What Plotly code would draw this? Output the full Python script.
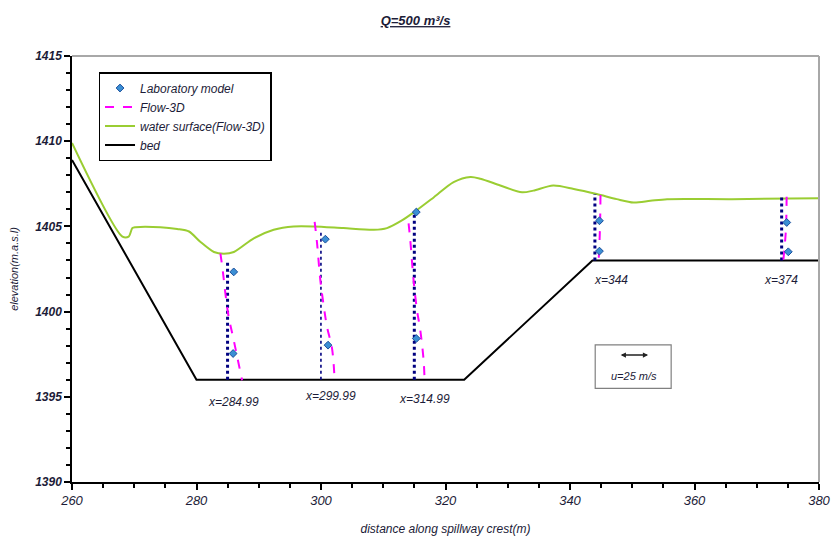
import plotly.graph_objects as go

# ---- bed profile (m, m a.s.l.) ----
bed_x = [260, 280, 323, 343.6, 380]
bed_z = [1408.9, 1396.0, 1396.0, 1403.0, 1403.0]

# ---- computed water surface (Flow-3D) ----
ws_x = [260.0, 268.1, 269.1, 269.7, 270.2, 274.2, 276.9, 278.8, 280.6, 282.8, 284.4,
        286.0, 289.2, 292.4, 295.6, 298.8, 303.6, 308.5, 310.6, 313.0, 315.2, 318.1,
        321.3, 324.0, 325.6, 328.8, 332.3, 334.1, 337.3, 340.6, 344.3, 347.5, 350.2,
        352.9, 355.6, 366.0, 380.0]
ws_z = [1409.9, 1404.4, 1404.4, 1404.9, 1404.95, 1404.95, 1404.85, 1404.7, 1404.1, 1403.5, 1403.4,
        1403.5, 1404.3, 1404.8, 1405.0, 1405.0, 1404.9, 1404.8, 1404.9, 1405.35, 1405.9, 1406.7,
        1407.6, 1407.9, 1407.8, 1407.4, 1407.0, 1407.1, 1407.4, 1407.2, 1406.9, 1406.6, 1406.4,
        1406.5, 1406.6, 1406.6, 1406.65]

# ---- measuring stations ----
stations = [284.99, 299.99, 314.99, 344, 374]
station_labels = ["x=284.99", "x=299.99", "x=314.99", "x=344", "x=374"]
station_top = [1403.0, 1404.8, 1405.9, 1406.9, 1406.7]
station_bed = [1396.0, 1396.0, 1396.0, 1403.0, 1403.0]

# ---- Flow-3D velocity profiles (plotted as x positions) ----
f3d_x_284 = [283.84, 284.21, 284.64, 285.17, 285.98, 287.32]
f3d_z_284 = [1403.41, 1402.43, 1401.07, 1399.69, 1398.32, 1395.97]
f3d_x_299 = [298.98, 299.37, 299.89, 300.42, 300.97, 301.77, 302.19]
f3d_z_299 = [1405.27, 1404.0, 1401.85, 1400.38, 1399.1, 1397.84, 1395.97]
f3d_x_314 = [314.07, 314.34, 314.87, 315.42, 315.95, 316.48, 316.64]
f3d_z_314 = [1405.18, 1404.2, 1401.85, 1400.09, 1398.91, 1397.15, 1395.97]
f3d_x_344 = [344.9, 344.85, 344.75, 344.6]
f3d_z_344 = [1406.84, 1405.5, 1404.2, 1403.0]
f3d_x_374 = [374.8, 374.75, 374.65, 374.27]
f3d_z_374 = [1406.74, 1405.5, 1404.6, 1403.0]

# ---- laboratory model measurements ----
lab_x = [285.98, 285.88, 300.70, 301.13, 315.31, 315.31, 344.73, 344.73, 374.82, 375.07]
lab_z = [1402.33, 1397.54, 1404.25, 1398.03, 1405.84, 1398.42, 1405.33, 1403.55, 1405.23, 1403.51]

# ---- velocity scale ----
scale_u = 25          # m/s
scale_len = 4.65      # m of horizontal axis per scale_u

FONT = "Liberation Sans, Arial, sans-serif"
TXT = "#1c1c38"
MAGENTA = "#ff00ff"
NAVY = "#000080"
GREEN = "#9acd32"

fig = go.Figure()

fig.add_trace(go.Scatter(x=bed_x, y=bed_z, mode="lines", name="bed",
                         line=dict(color="black", width=2), legendrank=4))
fig.add_trace(go.Scatter(x=ws_x, y=ws_z, mode="lines", name="water surface(Flow-3D)",
                         line=dict(color=GREEN, width=2, shape="spline", smoothing=0.8),
                         legendrank=3))

# station reference lines
for i, (sx, top, bot) in enumerate(zip(stations, station_top, station_bed)):
    fig.add_trace(go.Scatter(x=[sx, sx], y=[bot, top], mode="lines", showlegend=False,
                             hoverinfo="skip",
                             line=dict(color=NAVY, width=1.6 if i == 1 else 3, dash="dot")))

profiles = [(f3d_x_284, f3d_z_284), (f3d_x_299, f3d_z_299), (f3d_x_314, f3d_z_314),
            (f3d_x_344, f3d_z_344), (f3d_x_374, f3d_z_374)]
for i, (px, pz) in enumerate(profiles):
    fig.add_trace(go.Scatter(x=px, y=pz, mode="lines", name="Flow-3D",
                             legendgroup="f3d", showlegend=(i == 0), legendrank=2,
                             line=dict(color=MAGENTA, width=2, dash="dash", shape="spline")))

fig.add_trace(go.Scatter(x=lab_x, y=lab_z, mode="markers", name="Laboratory model",
                         legendrank=1,
                         marker=dict(symbol="diamond", size=6, color="#3b8fd4",
                                     line=dict(color="#1b4f9c", width=1))))

annotations = []
# station labels
label_pos = [(285.9, 1394.7), (301.5, 1395.05), (316.6, 1394.9), (346.6, 1401.85), (373.9, 1401.85)]
for txt, (lx, ly) in zip(station_labels, label_pos):
    annotations.append(dict(x=lx, y=ly, text=txt, showarrow=False,
                            font=dict(family=FONT, size=12, color=TXT, style="italic")))

# velocity scale bar
sx0 = 347.9
sy = 1397.45
annotations.append(dict(x=sx0 + scale_len, y=sy, ax=sx0, ay=sy, axref="x", ayref="y",
                        xref="x", yref="y", text="", showarrow=True,
                        arrowside="end+start", arrowhead=2, arrowsize=0.7,
                        arrowwidth=1.5, arrowcolor="#222"))
annotations.append(dict(x=sx0 + scale_len / 2, y=1396.2, text=f"u={scale_u} m/s",
                        showarrow=False,
                        font=dict(family=FONT, size=11, color=TXT, style="italic")))

shapes = [
    dict(type="rect", xref="x", yref="y", x0=344.05, x1=356.25, y0=1395.5, y1=1398.05,
         line=dict(color="#808080", width=1.2), fillcolor="white", layer="below"),
    # plot frame (top and right edges)
    dict(type="line", xref="paper", yref="paper", x0=0, x1=1, y0=1, y1=1,
         line=dict(color="#a8a8a8", width=2)),
    dict(type="line", xref="paper", yref="paper", x0=1, x1=1, y0=0, y1=1,
         line=dict(color="#a8a8a8", width=2)),
]

fig.update_layout(
    width=831, height=540,
    margin=dict(l=72, r=12, t=56, b=58, autoexpand=False),
    paper_bgcolor="white", plot_bgcolor="white",
    font=dict(family=FONT, color=TXT),
    title=dict(text="<b><i>Q=500 m³/s</i></b>", x=0.5, xanchor="center",
               y=0.962, yanchor="middle",
               font=dict(family=FONT, size=13, color=TXT, lineposition="under")),
    showlegend=True,
    legend=dict(x=0.0355, y=0.9624, xanchor="left", yanchor="top",
                bgcolor="white", bordercolor="black", borderwidth=1.5,
                font=dict(family=FONT, size=12, color=TXT, style="italic"),
                tracegroupgap=0),
    annotations=annotations,
    shapes=shapes,
)

fig.update_xaxes(range=[260, 380], dtick=20, tick0=260, showgrid=False, zeroline=False,
                 automargin=False,
                 showline=True, linecolor="black", linewidth=1.5,
                 ticks="outside", ticklen=6, tickcolor="black", tickwidth=1.5,
                 minor=dict(dtick=5, ticks="outside", ticklen=4, tickcolor="black"),
                 tickfont=dict(family=FONT, size=13, color=TXT, style="italic"),
                 title=dict(text="distance along spillway crest(m)", standoff=17,
                            font=dict(family=FONT, size=12, color=TXT, style="italic")))
fig.update_yaxes(range=[1390, 1415], dtick=5, tick0=1390, showgrid=False, zeroline=False,
                 automargin=False,
                 showline=True, linecolor="black", linewidth=1.5,
                 ticks="outside", ticklen=6, tickcolor="black", tickwidth=1.5,
                 minor=dict(dtick=1, ticks="outside", ticklen=4, tickcolor="black"),
                 tickfont=dict(family=FONT, size=12, color=TXT, style="italic", weight="bold"),
                 title=dict(text="elevation(m.a.s.l)", standoff=14,
                            font=dict(family=FONT, size=11, color=TXT, style="italic")))

fig.write_html("out.html")
